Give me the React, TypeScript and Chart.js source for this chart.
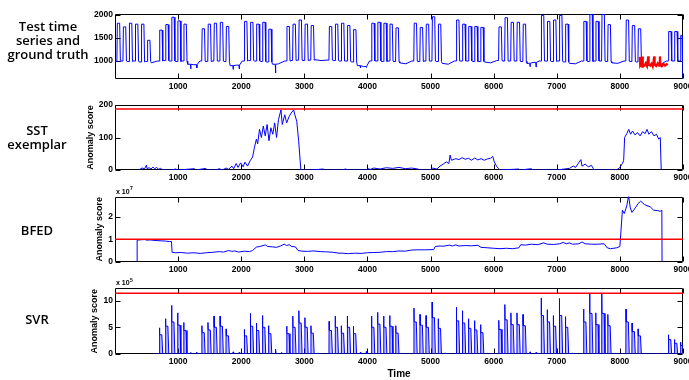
import React, { useEffect, useRef } from 'react';
import { Chart, registerables } from 'chart.js';

Chart.register(...registerables);

// ---- time axis (15-minute samples, 96 per day) ----
const SAMPLES_PER_DAY = 96;
const timeTicks = [1000, 2000, 3000, 4000, 5000, 6000, 7000, 8000, 9000];

// ---- test time series: one row per week, Monday first ----
// daily peak demand (null = no daytime peak)
const testPeak: (number | null)[] = [
  1820, 1740, 1820, 1800, 1800, 1450, null,
  1670, 1790, 1950, 1870, 1800, null, null,
  1700, 1800, 1820, 1840, 1750, null, null,
  1860, 1840, 1800, 1840, 1690, null, null,
  1750, 1800, 1890, 1800, 1770, null, null,
  1750, 1800, 1820, 1770, 1680, null, null,
  1820, 1840, 1820, 1800, 1720, null, null,
  1820, 1730, 1800, 1960, 1800, null, null,
  1890, 1800, 1750, 1750, 1730, null, null,
  1740, 1940, 1840, 1840, 1800, null, null,
  1990, 1860, 1890, 1990, 1800, null, null,
  1860, 2010, 1860, 2010, 1790, null, null,
  1890, 1770, 1700, null, null, null, null,
  1640, 1640, 1560,
];
// night / weekend demand level per day
const testLow: number[] = [
  990, 1000, 990, 1000, 980, 990, 960,
  1000, 1010, 1000, 990, 1000, 930, 920,
  1000, 990, 1000, 1000, 990, 900, 910,
  1000, 1010, 1000, 990, 980, 930, 940,
  1000, 1010, 1020, 1010, 1020, 1030, 1010,
  1020, 1010, 1000, 1000, 980, 900, 880,
  1000, 1000, 990, 1000, 990, 960, 940,
  1000, 990, 1000, 1000, 990, 950, 930,
  1000, 1000, 1000, 990, 990, 980, 960,
  1010, 1000, 1000, 1000, 990, 950, 970,
  1000, 1000, 990, 1000, 980, 950, 940,
  1000, 990, 1000, 1000, 990, 960, 950,
  1000, 990, 980, 920, 910, 930, 920,
  1000, 1000, 1000,
];
// short drops on quiet days
const testDipDays = [12, 13, 19, 20, 26, 40, 41, 68, 69];
const testDipValues = [830, 850, 820, 830, 740, 850, 860, 880, 870];
// last samples of the record
const testTailTime = [8986, 8991, 8996, 9000];
const testTailValue = [1540, 1010, 1000, 610];

// ground-truth anomaly (holiday week)
const truthTime = [
  8317, 8322, 8340, 8352, 8360, 8366, 8390, 8410, 8430, 8450, 8456, 8480, 8500,
  8520, 8545, 8551, 8575, 8600, 8620, 8634, 8640, 8665, 8690, 8715, 8740, 8756,
];
const truthValue = [
  1090, 900, 940, 880, 1100, 920, 900, 950, 890, 1100, 930, 900, 940,
  880, 1100, 920, 890, 950, 900, 1100, 930, 890, 940, 900, 930, 910,
];

// ---- SST exemplar anomaly score ----
const sstTime = [
  368, 400, 430, 470, 498, 510, 540, 570, 600, 630, 660, 690, 720, 760, 900, 960, 1000,
  1260, 1280, 1440, 1460, 1600, 1650, 1700, 1760, 1800, 1850, 1880, 1920, 1950, 1990,
  2030, 2060, 2100, 2140, 2180, 2210, 2240, 2260, 2290, 2320, 2350, 2380, 2410, 2440,
  2470, 2500, 2530, 2560, 2590, 2630, 2650, 2690, 2720, 2760, 2790, 2830, 2850, 2880,
  2910, 2945, 3100, 3300, 3320, 3600, 3650, 3700, 3988, 4000, 4050, 4100, 4200, 4300,
  4400, 4500, 4600, 4700, 4800, 4834, 5000, 5030, 5100, 5150, 5200, 5250, 5290, 5310,
  5330, 5400, 5450, 5500, 5550, 5600, 5650, 5700, 5750, 5800, 5850, 5900, 5950, 5985,
  6010, 6050, 6080, 6100, 6400, 6420, 6600, 6620, 7000, 7200, 7260, 7300, 7340, 7382,
  7400, 7450, 7500, 7550, 7580, 7600, 7950, 8000, 8040, 8060, 8075, 8110, 8140, 8170,
  8200, 8240, 8280, 8320, 8360, 8400, 8430, 8460, 8500, 8540, 8580, 8614, 8640, 8655,
];
const sstScore = [
  0, 3, 6, 4, 15, 4, 7, 3, 9, 4, 8, 2, 5, 0, 0, 3, 0,
  4, 0, 5, 0, 0, 4, 0, 6, 2, 12, 4, 20, 8, 22,
  10, 24, 12, 28, 40, 70, 95, 80, 125, 100, 135, 105, 140, 90,
  130, 110, 145, 100, 155, 185, 140, 170, 145, 165, 175, 185, 170, 150,
  90, 0, 0, 3, 0, 0, 3, 0, 0, 4, 2, 6, 3, 7,
  5, 8, 4, 6, 3, 0, 0, 6, 3, 12, 18, 25, 20, 46,
  30, 35, 32, 38, 33, 36, 30, 37, 31, 35, 30, 34, 36, 42,
  25, 10, 4, 0, 3, 0, 4, 0, 0, 5, 12, 8, 20, 32,
  12, 18, 10, 14, 4, 0, 0, 8, 20, 30, 100, 112, 125, 110,
  120, 108, 115, 105, 118, 112, 125, 110, 118, 105, 110, 95, 100, 0,
];
const sstThreshold = 188;

// ---- BFED anomaly score (x 10^7) ----
const bfedTime = [
  350, 351, 380, 420, 470, 500, 560, 620, 680, 740, 800, 860, 895, 905, 960, 1050,
  1150, 1250, 1350, 1450, 1550, 1650, 1720, 1800, 1850, 1900, 1960, 2050, 2130, 2180,
  2240, 2300, 2380, 2420, 2500, 2560, 2620, 2680, 2720, 2760, 2800, 2860, 2900, 2960,
  3050, 3150, 3250, 3350, 3450, 3550, 3600, 3700, 3800, 3900, 4000, 4100, 4200, 4300,
  4400, 4500, 4600, 4700, 4800, 4900, 5050, 5075, 5150, 5200, 5300, 5350, 5400, 5450,
  5550, 5650, 5750, 5800, 5900, 6000, 6100, 6200, 6300, 6400, 6430, 6500, 6600, 6700,
  6790, 6850, 6950, 7050, 7100, 7150, 7200, 7250, 7350, 7400, 7450, 7550, 7650, 7750,
  7800, 7850, 7950, 8000, 8040, 8070, 8110, 8138, 8165, 8191, 8244, 8290, 8330, 8390,
  8429, 8480, 8535, 8600, 8640, 8665, 8668,
];
const bfedScore = [
  0, 0.96, 0.97, 0.98, 0.99, 0.96, 0.97, 0.95, 0.94, 0.93, 0.92, 0.9, 0.9, 0.42, 0.4, 0.41,
  0.38, 0.4, 0.37, 0.4, 0.42, 0.45, 0.43, 0.5, 0.46, 0.48, 0.43, 0.47, 0.45, 0.5,
  0.65, 0.68, 0.75, 0.68, 0.66, 0.64, 0.7, 0.78, 0.72, 0.76, 0.68, 0.66, 0.5, 0.47,
  0.46, 0.48, 0.45, 0.44, 0.42, 0.38, 0.38, 0.36, 0.38, 0.37, 0.4, 0.41, 0.42, 0.45,
  0.45, 0.48, 0.47, 0.52, 0.53, 0.53, 0.54, 0.68, 0.7, 0.69, 0.74, 0.7, 0.75, 0.7,
  0.72, 0.71, 0.73, 0.64, 0.62, 0.6, 0.58, 0.6, 0.58, 0.62, 0.76, 0.74, 0.78, 0.76,
  0.84, 0.78, 0.77, 0.8, 0.86, 0.8, 0.84, 0.78, 0.8, 0.88, 0.8, 0.78, 0.78, 0.8,
  0.62, 0.58, 0.62, 0.68, 2.3, 2.15, 2.5, 2.95, 2.4, 2.2, 2.4, 2.6, 2.7, 2.55,
  2.5, 2.45, 2.3, 2.28, 2.25, 2.3, 0,
];
const bfedThreshold = 1.0;

// ---- SVR anomaly score (x 10^5), one row per week ----
const svrStart = 650;
const svrPeak: (number | null)[] = [
  null, null, null, null, null, null, null,
  4.9, 6.6, 9.1, 7.7, 5.9, null, null,
  5.3, 5.9, 7.1, 7.1, 4.7, null, null,
  4.6, 7.6, 5.8, 7.2, 5.3, null, null,
  5.2, 7.1, 8.1, 6.8, 5.3, null, null,
  6.1, 7.1, 5.3, 7.1, 5.2, null, null,
  7.1, 7.8, 7.1, 7.2, 5.3, null, null,
  8.6, 7.4, 7.2, 9.7, 6.6, null, null,
  8.75, 8.1, 6.6, 6.25, 5.5, null, null,
  6.3, 9.25, 7.7, 7.7, 7.4, null, null,
  10.5, 8.3, 7.2, 10.4, 7.0, null, null,
  8.4, 11.35, 7.7, 11.35, 7.4, null, null,
  8.4, 5.8, 4.7, null, null, null, null,
  3.6, 2.7, 2.2,
];
const svrBody: (number | null)[] = [
  null, null, null, null, null, null, null,
  3.6, 5.2, 6.0, 5.4, 4.4, null, null,
  4.0, 4.5, 5.0, 5.2, 3.4, null, null,
  3.4, 5.2, 4.4, 5.0, 3.8, null, null,
  3.8, 5.0, 5.8, 5.0, 3.9, null, null,
  4.4, 5.0, 3.9, 5.0, 3.8, null, null,
  5.0, 5.6, 5.0, 5.2, 3.9, null, null,
  6.0, 5.4, 5.0, 6.8, 4.8, null, null,
  6.2, 5.8, 4.8, 4.5, 4.0, null, null,
  4.6, 6.4, 5.5, 5.5, 5.3, null, null,
  7.2, 6.0, 5.2, 7.2, 5.0, null, null,
  6.0, 7.6, 5.5, 7.6, 5.3, null, null,
  6.0, 4.2, 3.4, null, null, null, null,
  2.7, 2.0, 1.6,
];
const svrBumpDays = [12, 13, 19, 20, 26, 27, 33, 40, 41, 47, 54, 61, 68, 69, 75, 82, 87, 88, 89, 90];
const svrBumpValues = [0.3, 0.35, 0.4, 0.3, 0.9, 0.3, 0.2, 0.3, 0.5, 0.2, 0.2, 0.2, 0.4, 0.3, 0.2, 0.2, 0.1, 0.1, 0.1, 0.1];
const svrThreshold = 11.35;

// ---- y-axis ranges and ticks ----
const testRange = [610, 2020];
const testTicks = [1000, 1500, 2000];
const sstRange = [0, 200];
const sstTicks = [0, 100, 200];
const bfedRange = [0, 2.9];
const bfedTicks = [0, 1, 2];
const svrRange = [0, 12.3];
const svrTicks = [0, 5, 10];

type Pt = { x: number; y: number };
const zip = (xs: number[], ys: number[]): Pt[] => xs.map((x, i) => ({ x, y: ys[i] }));

function buildTestSeries(): Pt[] {
  const pts: Pt[] = [];
  testPeak.forEach((peak, d) => {
    const s = d * SAMPLES_PER_DAY;
    const low = testLow[d];
    pts.push({ x: s, y: low });
    if (peak !== null) {
      pts.push({ x: s + 30, y: low }, { x: s + 37, y: peak }, { x: s + 74, y: peak }, { x: s + 85, y: low });
    }
    const k = testDipDays.indexOf(d);
    if (k >= 0) {
      pts.push({ x: s + 44, y: low }, { x: s + 48, y: testDipValues[k] }, { x: s + 52, y: low });
    }
  });
  return pts.filter((p) => p.x < testTailTime[0]).concat(zip(testTailTime, testTailValue));
}

function buildSvrSeries(): Pt[] {
  const pts: Pt[] = [{ x: svrStart, y: 0 }];
  svrPeak.forEach((peak, d) => {
    const s = d * SAMPLES_PER_DAY;
    if (s < svrStart) return;
    pts.push({ x: s, y: 0 });
    if (peak !== null) {
      const body = svrBody[d] as number;
      pts.push(
        { x: s + 30, y: 0 },
        { x: s + 33, y: peak },
        { x: s + 37, y: body },
        { x: s + 70, y: body },
        { x: s + 84, y: 0 },
      );
    }
    const k = svrBumpDays.indexOf(d);
    if (k >= 0) {
      pts.push({ x: s + 40, y: 0 }, { x: s + 48, y: svrBumpValues[k] }, { x: s + 56, y: 0 });
    }
  });
  pts.push({ x: 9000, y: 0 });
  return pts;
}

const thresholdLine = (v: number): Pt[] => [
  { x: 0, y: v },
  { x: 9000, y: v },
];

const FONT = 'Liberation Sans, Arial, Helvetica, sans-serif';
const BLUE = '#0000ff';
const RED = '#ff0000';
const TICK_LEN = 5;
const WIDTH = 689;
const AREA_LEFT = 115;
const AREA_RIGHT = 683;

function axesBox(power?: number) {
  return {
    id: 'axesBox',
    beforeDatasetsDraw(chart: any) {
      const { ctx, chartArea: a, scales } = chart;
      const L = Math.round(a.left) + 0.5;
      const R = Math.round(a.right) - 0.5;
      const T = Math.round(a.top) + 0.5;
      const B = Math.round(a.bottom) - 0.5;
      ctx.save();
      ctx.strokeStyle = '#000';
      ctx.lineWidth = 1;
      ctx.beginPath();
      ctx.rect(L, T, R - L, B - T);
      for (const t of scales.x.ticks) {
        const px = Math.round(scales.x.getPixelForValue(t.value)) + 0.5;
        ctx.moveTo(px, B);
        ctx.lineTo(px, B - TICK_LEN);
        ctx.moveTo(px, T);
        ctx.lineTo(px, T + TICK_LEN);
      }
      for (const t of scales.y.ticks) {
        const py = Math.round(scales.y.getPixelForValue(t.value)) + 0.5;
        ctx.moveTo(L, py);
        ctx.lineTo(L + TICK_LEN, py);
        ctx.moveTo(R, py);
        ctx.lineTo(R - TICK_LEN, py);
      }
      ctx.stroke();
      ctx.restore();
    },
    afterDraw(chart: any) {
      if (!power) return;
      const { ctx, chartArea: a } = chart;
      ctx.save();
      ctx.fillStyle = '#000';
      ctx.textBaseline = 'middle';
      ctx.font = `bold 7px ${FONT}`;
      const base = 'x 10';
      ctx.fillText(base, a.left + 1, a.top - 5);
      const w = ctx.measureText(base).width;
      ctx.font = `bold 5px ${FONT}`;
      ctx.fillText(String(power), a.left + 1 + w + 0.5, a.top - 8);
      ctx.restore();
    },
  };
}

type PanelProps = {
  top: number;
  height: number;
  areaTop: number;
  areaBottom: number;
  padLeft: number;
  datasets: any[];
  range: number[];
  yTicks: number[];
  yTitle?: string;
  xTitle?: string;
  power?: number;
};

function Panel(p: PanelProps) {
  const ref = useRef<HTMLCanvasElement>(null);
  useEffect(() => {
    const tickFont = { family: FONT, size: 8.5, weight: 'bold' as const };
    const xAxisHeight = p.top + p.height - p.areaBottom;
    const chart = new Chart(ref.current as HTMLCanvasElement, {
      type: 'line',
      data: { datasets: p.datasets },
      options: {
        animation: false,
        responsive: false,
        devicePixelRatio: 1,
        events: [],
        layout: {
          padding: { left: p.padLeft, top: p.areaTop - p.top, right: WIDTH - AREA_RIGHT, bottom: 0 },
        },
        plugins: { legend: { display: false }, tooltip: { enabled: false } },
        elements: { point: { radius: 0 }, line: { tension: 0, borderWidth: 1 } },
        scales: {
          x: {
            type: 'linear',
            min: 0,
            max: 9000,
            afterBuildTicks: (s: any) => {
              s.ticks = timeTicks.map((v) => ({ value: v }));
            },
            afterFit: (s: any) => {
              s.height = xAxisHeight;
              s.paddingLeft = 0;
              s.paddingRight = 0;
            },
            grid: { display: false, drawTicks: false },
            border: { display: false },
            ticks: {
              autoSkip: false,
              maxRotation: 0,
              padding: 3,
              color: '#000',
              font: tickFont,
              callback: (v: any) => String(v),
            },
            title: p.xTitle
              ? { display: true, text: p.xTitle, color: '#000', padding: 0, font: { family: FONT, size: 10, weight: 'bold' } }
              : { display: false },
          },
          y: {
            type: 'linear',
            min: p.range[0],
            max: p.range[1],
            afterBuildTicks: (s: any) => {
              s.ticks = p.yTicks.map((v) => ({ value: v }));
            },
            afterFit: (s: any) => {
              s.width = AREA_LEFT - p.padLeft;
              s.paddingTop = 0;
              s.paddingBottom = 0;
            },
            grid: { display: false, drawTicks: false },
            border: { display: false },
            ticks: { padding: 2, color: '#000', font: tickFont, callback: (v: any) => String(v) },
            title: p.yTitle
              ? { display: true, text: p.yTitle, color: '#000', padding: 0, font: { family: FONT, size: 9, weight: 'bold' } }
              : { display: false },
          },
        },
      } as any,
      plugins: [axesBox(p.power)],
    });
    return () => chart.destroy();
  }, []);
  return (
    <canvas
      ref={ref}
      width={WIDTH}
      height={p.height}
      style={{ position: 'absolute', left: 0, top: p.top, width: WIDTH, height: p.height }}
    />
  );
}

const labelStyle = (cx: number, cy: number): React.CSSProperties => ({
  position: 'absolute',
  left: cx,
  top: cy,
  transform: 'translate(-50%, -50%)',
  fontFamily: '"Open Sans", sans-serif',
  fontWeight: 600,
  fontSize: 13,
  lineHeight: '14px',
  textAlign: 'center',
  whiteSpace: 'nowrap',
  color: '#000',
});

export default function App() {
  const blue = (data: Pt[]) => ({ data, borderColor: BLUE, borderWidth: 1 });
  const red = (data: Pt[], w = 1.5) => ({ data, borderColor: RED, borderWidth: w });
  const svr = {
    data: buildSvrSeries(),
    borderColor: BLUE,
    borderWidth: 1,
    fill: 'origin',
    backgroundColor: 'rgba(70, 70, 255, 0.35)',
  };
  return (
    <div style={{ position: 'absolute', left: 0, top: 0, width: WIDTH, height: 380, background: '#fff', overflow: 'hidden' }}>
      <Panel
        top={0}
        height={96}
        areaTop={14}
        areaBottom={79}
        padLeft={0}
        range={testRange}
        yTicks={testTicks}
        datasets={[red(zip(truthTime, truthValue), 2.2), blue(buildTestSeries())]}
      />
      <Panel
        top={96}
        height={90}
        areaTop={105}
        areaBottom={170}
        padLeft={85.1}
        range={sstRange}
        yTicks={sstTicks}
        yTitle="Anomaly score"
        datasets={[red(thresholdLine(sstThreshold)), blue(zip(sstTime, sstScore))]}
      />
      <Panel
        top={186}
        height={92}
        areaTop={196.7}
        areaBottom={261.7}
        padLeft={94.6}
        range={bfedRange}
        yTicks={bfedTicks}
        yTitle="Anomaly score"
        power={7}
        datasets={[red(thresholdLine(bfedThreshold)), blue(zip(bfedTime, bfedScore))]}
      />
      <Panel
        top={278}
        height={102}
        areaTop={288.3}
        areaBottom={354}
        padLeft={89.6}
        range={svrRange}
        yTicks={svrTicks}
        yTitle="Anomaly score"
        xTitle="Time"
        power={5}
        datasets={[red(thresholdLine(svrThreshold)), svr]}
      />
      <div style={labelStyle(48, 39.5)}>
        Test time
        <br />
        series and
        <br />
        ground truth
      </div>
      <div style={labelStyle(37, 137)}>
        SST
        <br />
        exemplar
      </div>
      <div style={labelStyle(37, 230)}>BFED</div>
      <div style={labelStyle(37, 319)}>SVR</div>
    </div>
  );
}
